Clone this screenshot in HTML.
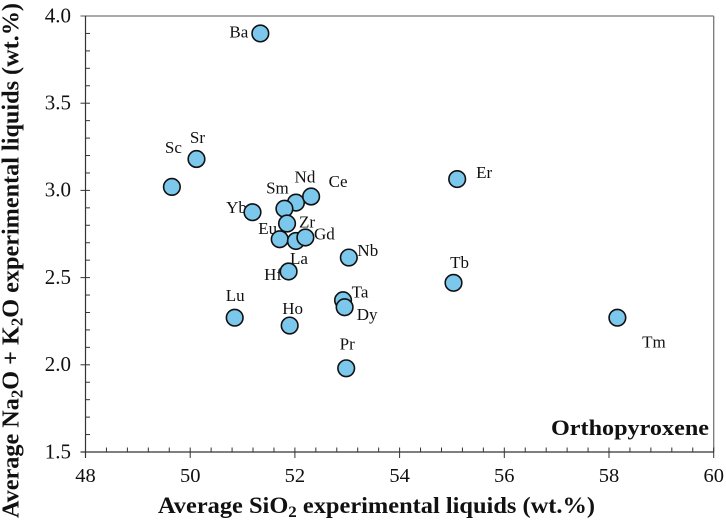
<!DOCTYPE html>
<html lang="en">
<head>
<meta charset="utf-8">
<title>Orthopyroxene scatter chart</title>
<style>
html,body{margin:0;padding:0;background:#fff;width:726px;height:522px;overflow:hidden}
svg{display:block;font-family:"Liberation Serif",serif;fill:#111}
</style>
</head>
<body>
<svg id="chart" width="726" height="522" viewBox="0 0 726 522" xmlns="http://www.w3.org/2000/svg">
  <g id="axes"></g>
  <g id="labels"></g>
  <g id="points"></g>
  <text x="158" y="513" font-size="23" font-weight="bold" textLength="437" lengthAdjust="spacingAndGlyphs">Average SiO<tspan dy="4" font-size="16">2</tspan><tspan dy="-4"> experimental liquids (wt.%)</tspan></text>
  <text transform="translate(18.5,518) rotate(-90)" x="0" y="0" font-size="24.5" font-weight="bold" textLength="515" lengthAdjust="spacingAndGlyphs">Average Na<tspan dy="4" font-size="17">2</tspan><tspan dy="-4">O + K</tspan><tspan dy="4" font-size="17">2</tspan><tspan dy="-4">O experimental liquids (wt.%)</tspan></text>
  <text x="709" y="435" text-anchor="end" font-size="22.5" font-weight="bold" textLength="158" lengthAdjust="spacingAndGlyphs">Orthopyroxene</text>
</svg>
<script>
const elements = ["Ba","Sr","Sc","Yb","Nd","Ce","Sm","Zr","Eu","La","Gd","Hf","Nb","Er","Tb","Ta","Dy","Lu","Ho","Pr","Tm"];
const silica = [51.34,50.12,49.65,51.19,52.02,52.31,51.80,51.85,51.71,52.02,52.20,51.88,53.03,55.10,55.03,52.92,52.95,50.85,51.90,52.98,58.16];
const alkalis = [3.90,3.18,3.02,2.875,2.93,2.965,2.895,2.81,2.72,2.71,2.73,2.535,2.615,3.065,2.47,2.37,2.33,2.27,2.225,1.98,2.27];
const xTickLabels = ["48","50","52","54","56","58","60"];
const yTickLabels = ["1.5","2.0","2.5","3.0","3.5","4.0"];

const labelPlacement = {
  Ba:[-21.5,4],Sr:[1,-16],Sc:[1.5,-34],Yb:[-16,1],Sm:[-7,-15],Nd:[9,-20],Ce:[27,-9.5],Zr:[20,4],Eu:[-12,-5],La:[3,23],
  Gd:[19,2],Hf:[-15.5,8.5],Nb:[19,-1.5],Er:[27,-1],Tb:[6,-15],Ta:[17,-3],Dy:[22.5,13],Lu:[0.5,-16.5],Ho:[3,-11.5],Pr:[1,-19],Tm:[36.5,30]
};

const SVG_NS = "http://www.w3.org/2000/svg";
const X0 = 85.5, X1 = 713.7, Y0 = 452, Y1 = 16;
const xMin = 48, xMax = 60, yMin = 1.5, yMax = 4;
function xScale(v){ return X0 + (v - xMin) / (xMax - xMin) * (X1 - X0); }
function yScale(v){ return Y0 - (v - yMin) / (yMax - yMin) * (Y0 - Y1); }

function mk(tag, attrs, parent){
  const el = document.createElementNS(SVG_NS, tag);
  for (const k in attrs) el.setAttribute(k, attrs[k]);
  parent.appendChild(el);
  return el;
}

const axes = document.getElementById("axes");

const topBorder = mk("line",{x1:X0-5,y1:Y1,x2:X1,y2:Y1,stroke:"#777","stroke-width":1.3},axes);


const rightBorder = mk("line",{x1:X1,y1:Y1,x2:X1,y2:Y0,stroke:"#777","stroke-width":1.3},axes);


const xAxisLine = mk("line",{x1:X0-5,y1:Y0,x2:X1,y2:Y0,stroke:"#333","stroke-width":1.2},axes);


const yAxisLine = mk("line",{x1:X0,y1:Y1,x2:X0,y2:Y0+6,stroke:"#333","stroke-width":1.2},axes);



for (let i = 0; i <= 30; i++) {
  const v = xMin + i * 0.4;
  const major = i % 5 === 0;
  const tick = mk("line",{x1:xScale(v),x2:xScale(v),y1:Y0-4.5,y2:major?Y0+6:Y0,stroke:"#333","stroke-width":1},axes);
  
  
}
for (let i = 0; i < 25; i++) {
  const v = yMin + i * 0.1;
  const major = i % 5 === 0;
  const tick = mk("line",{y1:yScale(v),y2:yScale(v),x1:major?X0-5:X0,x2:X0+4.5,stroke:"#333","stroke-width":1},axes);
  
  
}
xTickLabels.forEach(function(t){
  const el = mk("text",{x:xScale(Number(t)),y:482,"text-anchor":"middle","font-size":20.5},axes);
  el.textContent = t;
  
  
});
yTickLabels.forEach(function(t){
  const el = mk("text",{x:71,y:yScale(Number(t))+6.3,"text-anchor":"end","font-size":21},axes);
  el.textContent = t;
  
  
});

const points = document.getElementById("points");
const labels = document.getElementById("labels");
elements.forEach(function(name, i){
  const cx = xScale(silica[i]), cy = yScale(alkalis[i]);
  const c = mk("circle",{cx:cx,cy:cy,r:8.3,fill:"#7cc8ec",stroke:"#111","stroke-width":1.6},points);
  
  
  const off = labelPlacement[name];
  const t = mk("text",{x:cx+off[0],y:cy+off[1],"text-anchor":"middle","font-size":17},labels);
  t.textContent = name;
  
  
});
</script>
</body>
</html>
